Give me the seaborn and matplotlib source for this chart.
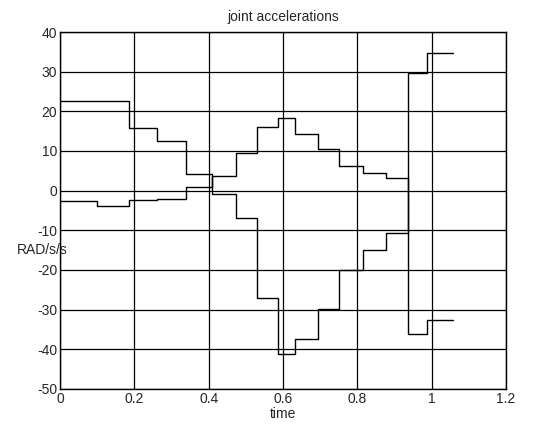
import matplotlib
matplotlib.use("Agg")
import matplotlib.pyplot as plt
import seaborn as sns
import pandas as pd

# step start times (last entry is the end of the final step)
times = [0, 0.1, 0.185, 0.26, 0.34, 0.41, 0.473, 0.53, 0.586, 0.633,
         0.693, 0.751, 0.815, 0.878, 0.935, 0.988, 1.057]

# acceleration held over each interval
joint1 = [22.7, 22.7, 15.7, 12.6, 4.1, -0.8, -7.0, -27.1, -41.1, -37.4,
          -29.8, -20.0, -15.1, -10.7, 29.6, 34.6]
joint2 = [-2.5, -3.8, -2.3, -2.1, 1.0, 3.7, 9.6, 16.1, 18.2, 14.4,
          10.4, 6.3, 4.4, 3.1, -36.1, -32.6]

x_ticks = [0, 0.2, 0.4, 0.6, 0.8, 1, 1.2]
x_ticklabels = ["0", "0.2", "0.4", "0.6", "0.8", "1", "1.2"]
y_ticks = [-50, -40, -30, -20, -10, 0, 10, 20, 30, 40]

sns.set_style("whitegrid", {"grid.color": "black", "axes.edgecolor": "black"})
plt.rcParams["font.family"] = ["Liberation Sans", "DejaVu Sans"]
plt.rcParams["axes.unicode_minus"] = False

fig, ax = plt.subplots(figsize=(5.36, 4.33), dpi=100)
fig.subplots_adjust(left=0.112, right=0.944, bottom=0.102, top=0.926)

for name, vals in [("joint 1", joint1), ("joint 2", joint2)]:
    df = pd.DataFrame({"time": times, "acc": vals + [vals[-1]]})
    sns.lineplot(data=df, x="time", y="acc", ax=ax, color="black",
                 drawstyle="steps-post", linewidth=1.0, estimator=None)

ax.set_xlim(0, 1.2)
ax.set_ylim(-50, 40)
ax.set_xticks(x_ticks)
ax.set_xticklabels(x_ticklabels)
ax.set_yticks(y_ticks)
ax.grid(True, color="black", linewidth=0.9)
for s in ax.spines.values():
    s.set_linewidth(1.0)
ax.tick_params(labelsize=10, length=0, pad=2)

ax.set_title("joint accelerations", fontsize=10, pad=8)
ax.set_xlabel("time", fontsize=10, labelpad=1)
ax.set_ylabel("RAD/s/s", fontsize=10, rotation=0)
ax.yaxis.set_label_coords(-0.04, 0.37)

plt.savefig("out.png", dpi=100)
